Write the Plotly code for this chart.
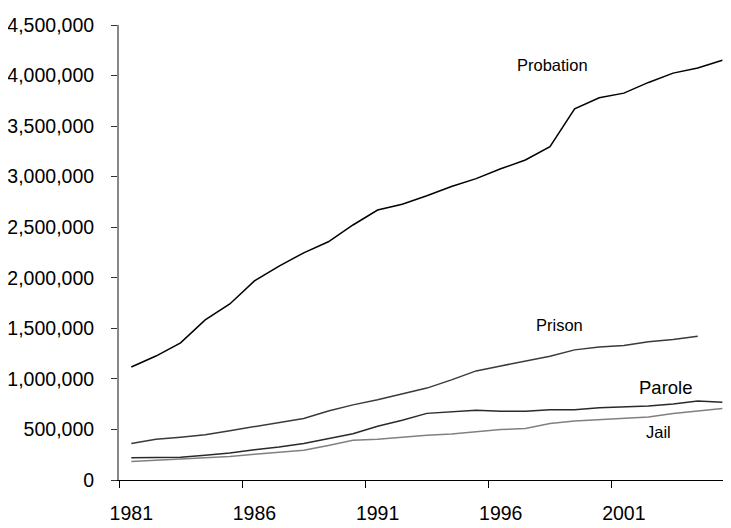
import plotly.graph_objects as go

years = list(range(1981, 2006))
prison_years = list(range(1981, 2005))

probation = [1118000, 1226000, 1357000, 1583000, 1741000, 1969000, 2115000, 2247000,
             2356000, 2522000, 2670000, 2728000, 2812000, 2903000, 2981000, 3078000,
             3165000, 3297000, 3670000, 3780000, 3826000, 3932000, 4024000, 4074000,
             4151000]
prison = [360000, 403000, 424000, 448000, 488000, 526000, 563000, 608000, 683000,
          743000, 793000, 851000, 909000, 990000, 1079000, 1128000, 1177000, 1224000,
          1287000, 1316000, 1330000, 1368000, 1390000, 1421000]
parole = [220000, 226000, 225000, 246000, 267000, 300000, 327000, 362000, 408000,
          457000, 531000, 590000, 659000, 676000, 690000, 679000, 680000, 695000,
          696000, 714000, 724000, 731000, 752000, 782000, 770000]
jail = [182000, 195000, 208000, 222000, 233000, 255000, 273000, 294000, 342000,
        393000, 403000, 424000, 442000, 456000, 480000, 499000, 510000, 558000,
        584000, 596000, 614000, 624000, 658000, 684000, 708000]

x_labels = [1981, 1986, 1991, 1996, 2001]
y_ticks = [0, 500000, 1000000, 1500000, 2000000, 2500000, 3000000, 3500000, 4000000, 4500000]

FONT = "Liberation Sans, Arial, sans-serif"

fig = go.Figure()
fig.add_trace(go.Scatter(x=years, y=probation, mode="lines", name="Probation",
                         line=dict(color="#000000", width=1.5)))
fig.add_trace(go.Scatter(x=prison_years, y=prison, mode="lines", name="Prison",
                         line=dict(color="#3a3a3a", width=1.5)))
fig.add_trace(go.Scatter(x=years, y=parole, mode="lines", name="Parole",
                         line=dict(color="#2a2a2a", width=1.5)))
fig.add_trace(go.Scatter(x=years, y=jail, mode="lines", name="Jail",
                         line=dict(color="#808080", width=1.5)))

labels = [
    ("Probation", 1998.1, 4105000, 16.5),
    ("Prison", 1998.4, 1533000, 16.5),
    ("Parole", 2002.7, 910000, 18.5),
    ("Jail", 2002.4, 475000, 16.5),
]
for text, lx, ly, size in labels:
    fig.add_annotation(x=lx, y=ly, xref="x", yref="y", text=text, showarrow=False,
                       font=dict(family=FONT, size=size, color="#000000"),
                       xanchor="center", yanchor="middle")

fig.update_layout(
    width=731, height=528,
    margin=dict(l=111, r=8, t=17, b=56),
    paper_bgcolor="white", plot_bgcolor="white",
    showlegend=False,
    font=dict(family=FONT, size=19.5, color="#000000"),
)
fig.update_xaxes(
    range=[1980.5, 2005.35],
    automargin=False,
    tickvals=x_labels, ticktext=[str(v) for v in x_labels],
    ticks="outside", ticklen=0, tickcolor="#000000",
    minor=dict(tickvals=[v - 0.5 for v in x_labels], ticks="outside", ticklen=7,
               tickcolor="#000000", tickwidth=1),
    showline=True, linecolor="#000000", linewidth=1,
    showgrid=False, zeroline=False,
    tickfont=dict(family=FONT, size=19.5, color="#000000"),
    ticklabelstandoff=16,
)
fig.update_yaxes(
    range=[0, 4500000],
    automargin=False,
    tickvals=y_ticks, tickformat=",",
    ticks="outside", ticklen=6, tickcolor="#333333", tickwidth=1,
    showline=True, linecolor="#888888", linewidth=2,
    showgrid=False, zeroline=False,
    tickfont=dict(family=FONT, size=19.5, color="#000000"),
    ticklabelstandoff=13,
)

fig.write_html("out.html")
